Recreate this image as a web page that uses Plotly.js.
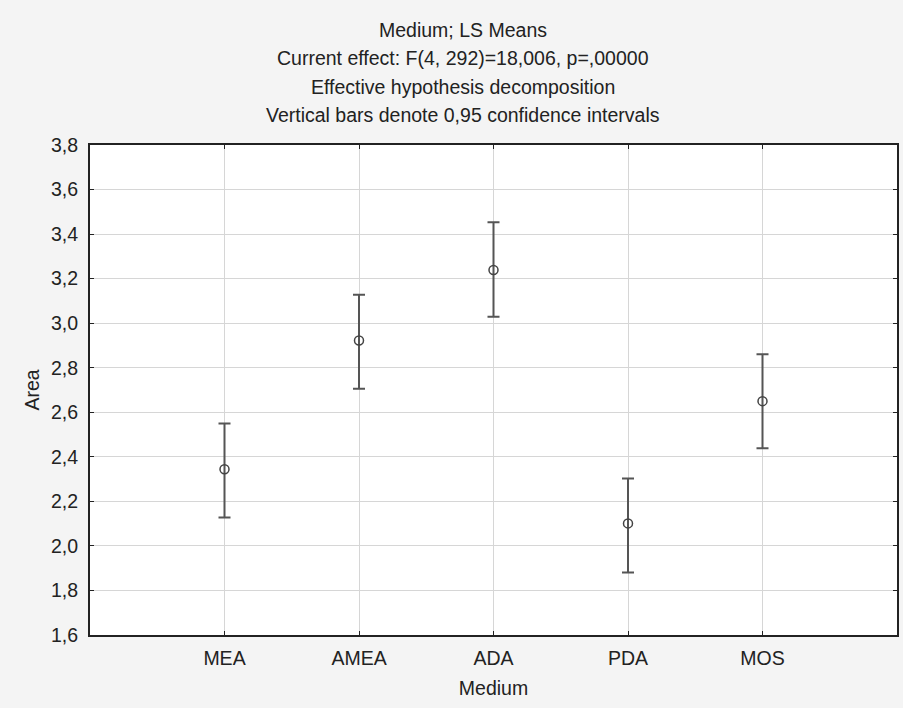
<!DOCTYPE html>
<html>
<head>
<meta charset="utf-8">
<script src="https://cdn.plot.ly/plotly-3.0.1.min.js"></script>
<style>
html,body{margin:0;padding:0;background:#f4f4f4;}
#chart{width:903px;height:708px;}
</style>
</head>
<body>
<div id="chart"></div>
<script>
const categories = ["MEA", "AMEA", "ADA", "PDA", "MOS"];
const means = [2.344, 2.922, 3.239, 2.101, 2.650];
const upper = [2.550, 3.128, 3.453, 2.303, 2.860];
const lower = [2.128, 2.706, 3.029, 1.881, 2.439];
const yTicks = [1.6, 1.8, 2.0, 2.2, 2.4, 2.6, 2.8, 3.0, 3.2, 3.4, 3.6, 3.8];
const yTickText = ["1,6","1,8","2,0","2,2","2,4","2,6","2,8","3,0","3,2","3,4","3,6","3,8"];
const titleLines = [
  "Medium; LS Means",
  "Current effect: F(4, 292)=18,006, p=,00000",
  "Effective hypothesis decomposition",
  "Vertical bars denote 0,95 confidence intervals"
];

const font = {family: "Liberation Sans, Arial, sans-serif", size: 19.5, color: "#222"};

const trace = {
  type: "scatter",
  mode: "markers",
  x: categories.map((c, i) => i),
  y: means,
  marker: {symbol: "circle-open", size: 9, color: "#444", line: {width: 1.5, color: "#444"}},
  error_y: {
    type: "data",
    symmetric: false,
    array: upper.map((u, i) => u - means[i]),
    arrayminus: lower.map((l, i) => means[i] - l),
    color: "#555",
    thickness: 2,
    width: 6
  },
  hoverinfo: "x+y",
  showlegend: false
};

const titleY = [1.2347, 1.1776, 1.1184, 1.0612];
const annotations = titleLines.map((t, i) => ({
  text: t, xref: "paper", yref: "paper", x: 0.462, y: titleY[i],
  xanchor: "center", yanchor: "middle", showarrow: false, font: font
}));

const layout = {
  width: 903, height: 708,
  margin: {l: 90, r: 6, t: 145, b: 73},
  paper_bgcolor: "#f4f4f4",
  plot_bgcolor: "#ffffff",
  font: font,
  showlegend: false,
  annotations: annotations,
  xaxis: {
    range: [-1, 5],
    tickvals: categories.map((c, i) => i),
    ticktext: categories,
    showgrid: true, gridcolor: "#d6d6d6", gridwidth: 1,
    zeroline: false,
    showline: true, linecolor: "#222", linewidth: 2, mirror: "ticks",
    ticks: "inside", ticklen: 4, tickcolor: "#222",
    ticklabelstandoff: 5,
    tickfont: font,
    title: {text: "Medium", font: font, standoff: 13}
  },
  yaxis: {
    range: [1.6, 3.8],
    tickvals: yTicks,
    ticktext: yTickText,
    showgrid: true, gridcolor: "#d6d6d6", gridwidth: 1,
    zeroline: false,
    showline: true, linecolor: "#222", linewidth: 2, mirror: "ticks",
    ticks: "inside", ticklen: 4, tickcolor: "#222",
    ticklabelstandoff: 6,
    tickfont: font,
    title: {text: "Area", font: font, standoff: 6}
  }
};

Plotly.newPlot("chart", [trace], layout, {displayModeBar: false, staticPlot: true});
</script>
</body>
</html>
